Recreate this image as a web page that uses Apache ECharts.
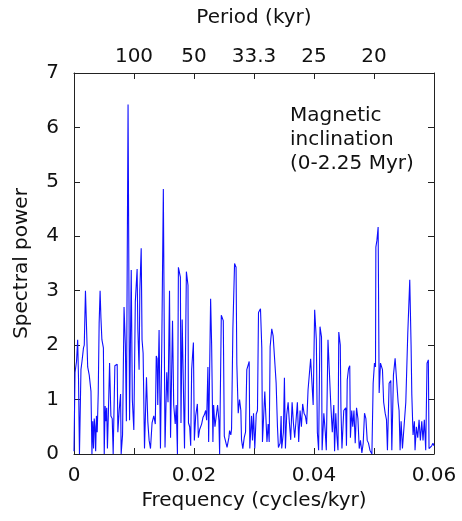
<!DOCTYPE html>
<html>
<head>
<meta charset="utf-8">
<script src="https://cdn.jsdelivr.net/npm/echarts@6/dist/echarts.min.js"></script>
<style>html,body{margin:0;padding:0;background:#fff}#c{width:462px;height:521px}</style>
</head>
<body>
<div id="c"></div>
<script>
var frequency = [0,0.00017,0.00042,0.00061,0.00075,0.00091,0.00116,0.00133,0.00158,0.00171,0.00191,0.00216,0.00228,0.00254,0.00283,0.00299,0.00312,0.00326,0.00337,0.00349,0.00361,0.00374,0.00387,0.00404,0.00419,0.00435,0.00449,0.00465,0.00490,0.00504,0.00519,0.00532,0.00545,0.00557,0.00573,0.00593,0.00615,0.00637,0.00653,0.00681,0.00720,0.00731,0.00753,0.00776,0.00786,0.00809,0.00834,0.00856,0.00873,0.00901,0.00926,0.00954,0.00972,0.00997,0.01022,0.01052,0.01064,0.01085,0.01097,0.01120,0.01134,0.01152,0.01175,0.01208,0.01230,0.01252,0.01275,0.01301,0.01330,0.01355,0.01371,0.01385,0.01396,0.01418,0.01441,0.01463,0.01489,0.01517,0.01546,0.01567,0.01592,0.01609,0.01642,0.01662,0.01687,0.01704,0.01724,0.01740,0.01773,0.01783,0.01803,0.01828,0.01842,0.01873,0.01900,0.01908,0.01928,0.01945,0.01961,0.01990,0.02006,0.02028,0.02056,0.02073,0.02094,0.02127,0.02149,0.02172,0.02194,0.02211,0.02232,0.02244,0.02277,0.02294,0.02315,0.02327,0.02349,0.02393,0.02415,0.02427,0.02455,0.02488,0.02505,0.02526,0.02551,0.02581,0.02593,0.02614,0.02626,0.02648,0.02676,0.02701,0.02714,0.02737,0.02759,0.02781,0.02792,0.02814,0.02837,0.02859,0.02880,0.02920,0.02930,0.02959,0.02975,0.02992,0.03013,0.03037,0.03058,0.03075,0.03108,0.03130,0.03141,0.03170,0.03180,0.03208,0.03216,0.03236,0.03253,0.03269,0.03296,0.03319,0.03346,0.03369,0.03391,0.03407,0.03436,0.03452,0.03462,0.03490,0.03507,0.03524,0.03545,0.03569,0.03590,0.03612,0.03635,0.03657,0.03678,0.03701,0.03723,0.03745,0.03768,0.03790,0.03811,0.03834,0.03856,0.03878,0.03901,0.03923,0.03944,0.03972,0.03986,0.04011,0.04039,0.04056,0.04077,0.04100,0.04125,0.04135,0.04164,0.04188,0.04205,0.04233,0.04263,0.04280,0.04305,0.04330,0.04343,0.04363,0.04380,0.04400,0.04413,0.04438,0.04449,0.04466,0.04496,0.04529,0.04541,0.04554,0.04576,0.04596,0.04607,0.04629,0.04646,0.04666,0.04687,0.04709,0.04732,0.04754,0.04775,0.04798,0.04820,0.04842,0.04865,0.04887,0.04908,0.04932,0.04965,0.04986,0.05008,0.05025,0.05031,0.05048,0.05069,0.05086,0.05108,0.05141,0.05161,0.05186,0.05208,0.05224,0.05252,0.05280,0.05297,0.05324,0.05352,0.05374,0.05402,0.05418,0.05435,0.05452,0.05474,0.05507,0.05530,0.05563,0.05596,0.05618,0.05630,0.05651,0.05673,0.05684,0.05706,0.05729,0.05751,0.05773,0.05796,0.05817,0.05839,0.05862,0.05884,0.05906,0.05917,0.05939,0.05962,0.05983,0.06];
var power = [0.05,1.5,1.7,2.1,1.4,0.0,1.55,1.7,1.95,2.0,3.0,3.02,1.6,1.45,1.15,0.0,0.6,0.1,0.65,0.5,0.05,0.7,0.4,1.12,2.4,3.0,2.5,2.1,1.95,0.0,0.88,0.6,0.85,0.1,0.75,1.67,0.7,0.65,0.0,1.62,1.65,0.4,0.8,1.1,0.0,0.35,2.7,2.0,0.6,6.42,0.62,3.38,1.0,0.44,2.8,3.4,2.3,1.55,3.0,3.78,2.1,1.85,0.1,1.41,0.6,0.25,0.1,0.57,0.7,0.55,1.8,1.75,0.9,2.28,0.1,2.0,4.87,0.12,1.5,0.95,3.0,0.3,2.45,0.9,0.55,0.9,0.0,3.43,3.25,0.57,2.47,2.45,0.1,3.35,3.1,0.57,0.5,0.15,1.55,2.05,0.25,0.7,0.92,0.3,0.45,0.55,0.67,0.72,0.8,0.62,1.6,0.22,2.85,2.0,0.22,0.9,0.5,0.9,0.62,0.0,2.55,2.45,0.33,0.3,0.12,0.3,0.43,0.35,0.46,2.3,3.5,3.43,1.65,0.75,1.0,0.8,0.26,0.1,0.3,0.4,1.55,1.7,0.1,0.7,0.25,0.75,0.1,0.73,0.8,2.6,2.67,1.95,0.22,0.25,1.15,1.18,0.22,0.55,0.22,1.97,2.3,2.17,2.15,1.3,0.5,0.12,0.2,0.7,0.1,0.4,1.4,0.1,0.72,0.95,0.57,0.26,0.95,0.57,0.3,0.62,0.95,0.22,0.8,0.5,0.92,0.75,0.7,0.55,1.18,1.2,1.75,1.75,0.9,2.65,2.1,0.4,0.07,2.34,2.15,0.07,0.75,0.4,0.07,2.1,2.1,0.9,0.4,0.9,0.05,0.75,0.35,0.07,2.24,2.0,0.85,0.1,0.8,0.85,0.15,1.36,1.57,1.62,0.3,0.8,0.5,0.8,0.2,0.85,0.65,0.1,0.25,0.02,0.2,0.75,0.65,0.25,0.2,0.07,0.0,1.3,1.67,1.6,3.8,3.92,4.17,1.12,1.67,1.55,0.95,0.75,0.63,0.07,1.3,1.35,0.07,1.45,1.76,1.4,0.95,0.8,0.07,0.6,0.1,0.1,0.95,2.22,3.2,2.0,1.1,0.35,0.6,0.07,0.5,0.3,0.63,0.25,0.6,0.25,0.63,0.07,1.67,1.73,0.1,0.1,0.15,0.2,0.15];
var bottomTickLabels = {0: '0', 0.02: '0.02', 0.04: '0.04', 0.06: '0.06'};
var periodTickLabels = ['100', '50', '33.3', '25', '20'];
var periodTickFreqs = [0.01, 0.02, 0.03, 0.04, 0.05];
var annotation = ['Magnetic', 'inclination', '(0-2.25 Myr)'];

var FONT = '"DejaVu Sans", Arial, Helvetica, sans-serif';
var FS = 20;
var data = frequency.map(function (f, i) { return [f, power[i]]; });
var axisLineStyle = { color: '#222', width: 1 };

function labelFor(v) {
  var r = Math.round(v * 1000) / 1000;
  return bottomTickLabels.hasOwnProperty(r) ? bottomTickLabels[r] : '';
}
function periodFor(v) {
  var r = Math.round(v * 1000) / 1000;
  var i = periodTickFreqs.indexOf(r);
  return i >= 0 ? periodTickLabels[i] : '';
}

var chart = echarts.init(document.getElementById('c'), null, { renderer: 'canvas' });
chart.setOption({
  animation: false,
  backgroundColor: '#fff',
  grid: { left: 74, right: 28, top: 73, bottom: 67, containLabel: false },
  title: {
    text: annotation.join('\n'),
    left: 285, top: 99,
    textStyle: { fontFamily: FONT, fontSize: FS, fontWeight: 'normal', color: '#111', lineHeight: 24 }
  },
  xAxis: [{
    type: 'value', position: 'bottom', min: 0, max: 0.06, interval: 0.01,
    name: 'Frequency (cycles/kyr)', nameLocation: 'middle', nameGap: 36,
    nameTextStyle: { fontFamily: FONT, fontSize: FS, color: '#111' },
    axisLine: { show: true, onZero: false, lineStyle: axisLineStyle },
    axisTick: { show: true, inside: true, length: 6, lineStyle: axisLineStyle },
    axisLabel: { fontFamily: FONT, fontSize: FS, color: '#111', margin: 12, formatter: labelFor, showMinLabel: true, showMaxLabel: true },
    splitLine: { show: false }
  }, {
    type: 'value', position: 'top', min: 0, max: 0.06, interval: 0.01,
    name: 'Period (kyr)', nameLocation: 'middle', nameGap: 45,
    nameTextStyle: { fontFamily: FONT, fontSize: FS, color: '#111' },
    axisLine: { show: true, onZero: false, lineStyle: axisLineStyle },
    axisTick: { show: true, inside: true, length: 6, lineStyle: axisLineStyle },
    axisLabel: { fontFamily: FONT, fontSize: FS, color: '#111', margin: 6, formatter: periodFor },
    splitLine: { show: false }
  }],
  yAxis: [{
    type: 'value', position: 'left', min: 0, max: 7, interval: 1,
    name: 'Spectral power', nameLocation: 'middle', nameGap: 42, nameRotate: 90,
    nameTextStyle: { fontFamily: FONT, fontSize: FS, color: '#111' },
    axisLine: { show: true, onZero: false, lineStyle: axisLineStyle },
    axisTick: { show: true, inside: true, length: 6, lineStyle: axisLineStyle },
    axisLabel: { fontFamily: FONT, fontSize: FS, color: '#111', margin: 15 },
    splitLine: { show: false }
  }, {
    type: 'value', position: 'right', min: 0, max: 7, interval: 1,
    axisLine: { show: true, onZero: false, lineStyle: axisLineStyle },
    axisTick: { show: true, inside: true, length: 6, lineStyle: axisLineStyle },
    axisLabel: { show: false },
    splitLine: { show: false }
  }],
  series: [{
    type: 'line', xAxisIndex: 0, yAxisIndex: 0, data: data,
    showSymbol: false, symbol: 'none',
    lineStyle: { color: '#0f0fff', width: 1.1 },
    clip: true
  }]
});
</script>
</body>
</html>
